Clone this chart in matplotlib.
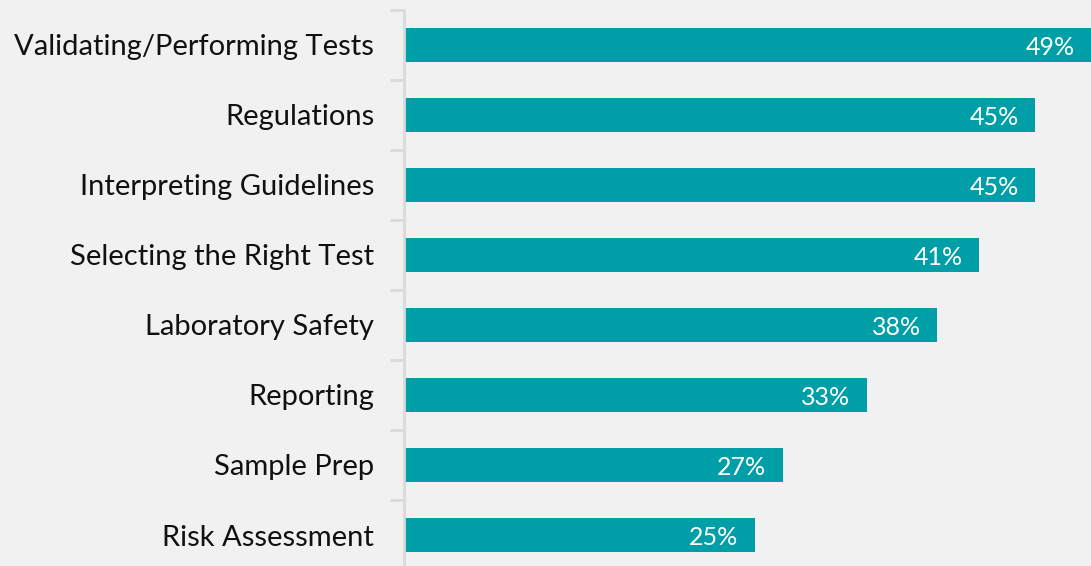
import matplotlib
matplotlib.use("Agg")
import matplotlib.pyplot as plt

# data, top to bottom as shown
categories = ["Validating/Performing Tests", "Regulations", "Interpreting Guidelines",
              "Selecting the Right Test", "Laboratory Safety", "Reporting",
              "Sample Prep", "Risk Assessment"]
values = [49, 45, 45, 41, 38, 33, 27, 25]

BG = "#f1f1f1"
BAR = "#009ea7"
plt.rcParams["font.family"] = ["Lato", "DejaVu Sans"]

fig = plt.figure(figsize=(10.91, 5.66), dpi=100, facecolor=BG)
ax = fig.add_axes([404 / 1091, -4 / 566, 1 - 404 / 1091, 560 / 566])
ax.set_facecolor(BG)

n = len(categories)
ypos = list(range(n))[::-1]
ax.barh(ypos, values, height=0.49, color=BAR)

for y, v in zip(ypos, values):
    ax.text(v - 1.15, y - 0.03, f"{v}%", ha="right", va="center",
            color="white", fontsize=18)

ax.set_xlim(0, 49)
ax.set_ylim(-0.5, n - 0.5)
ax.set_xticks([])
ax.set_yticks(ypos)
ax.set_yticklabels(categories, fontsize=21, color="#111111")
ax.tick_params(axis="y", length=0, pad=21.5)
ax.set_yticks([i - 0.5 for i in range(n + 1)], minor=True)
ax.tick_params(axis="y", which="minor", length=10, width=2, color="#dadada")

for s in ["top", "right", "bottom"]:
    ax.spines[s].set_visible(False)
ax.spines["left"].set_color("#dadada")
ax.spines["left"].set_linewidth(2)

fig.savefig("out.png", dpi=100, facecolor=BG)
